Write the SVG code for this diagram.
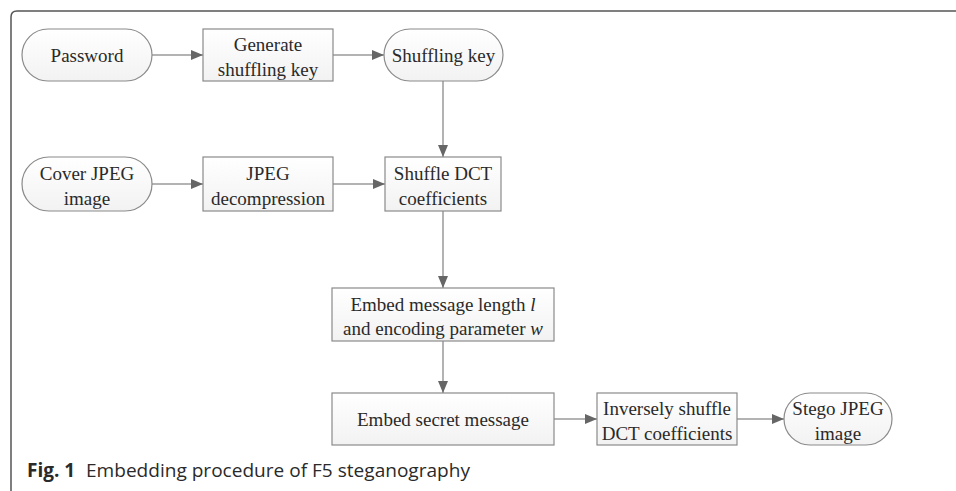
<svg xmlns="http://www.w3.org/2000/svg" width="956" height="491" viewBox="0 0 956 491">
<style>
.node{fill:url(#g);stroke:#8a8a8a;stroke-width:1.2}
.t{font-family:"Liberation Serif","Times New Roman",serif;font-size:19px;fill:#2a2a2a;text-anchor:middle}
.c{stroke:#9a9a9a;stroke-width:1.5;fill:none;marker-end:url(#ah)}
.cap{font-family:"Open Sans","Noto Sans",sans-serif;font-size:19px;fill:#2a2a2a}
</style>
<defs>
<linearGradient id="g" x1="0" y1="0" x2="0" y2="1">
<stop offset="0" stop-color="#ffffff"/>
<stop offset="1" stop-color="#f2f2f2"/>
</linearGradient>
<marker id="ah" viewBox="0 0 12 10" refX="12" refY="5" markerWidth="12" markerHeight="10" markerUnits="userSpaceOnUse" orient="auto">
<path d="M0,0 L12,5 L0,10 Z" fill="#666"/>
</marker>
</defs>
<rect width="956" height="491" fill="#fff"/>
<path d="M11,491 V17 Q11,11 17,11 H956" fill="none" stroke="#555" stroke-width="1.5"/>

<g id="connectors">
<line class="c" x1="152" y1="55" x2="203" y2="55"/>
<line class="c" x1="333" y1="55" x2="384" y2="55"/>
<line class="c" x1="443" y1="81" x2="443" y2="157"/>
<line class="c" x1="152" y1="184" x2="203" y2="184"/>
<line class="c" x1="333" y1="184" x2="385" y2="184"/>
<line class="c" x1="443" y1="211" x2="443" y2="288"/>
<line class="c" x1="443" y1="341" x2="443" y2="393"/>
<line class="c" x1="554" y1="419" x2="597" y2="419"/>
<line class="c" x1="737" y1="419" x2="784" y2="419"/>
</g>

<g id="password">
<rect class="node" x="22" y="29" width="130" height="52" rx="26"/>
<text class="t" x="87" y="61.5">Password</text>
</g>
<g id="generate-key">
<rect class="node" x="203" y="29" width="130" height="52"/>
<text class="t" x="268" y="51">Generate</text>
<text class="t" x="268" y="75.5">shuffling key</text>
</g>
<g id="shuffling-key">
<rect class="node" x="384" y="29" width="119" height="52" rx="26"/>
<text class="t" x="443.5" y="61.5">Shuffling key</text>
</g>
<g id="cover-jpeg">
<rect class="node" x="22" y="157" width="130" height="54" rx="27"/>
<text class="t" x="87" y="180">Cover JPEG</text>
<text class="t" x="87" y="204.5">image</text>
</g>
<g id="jpeg-decompression">
<rect class="node" x="203" y="157" width="130" height="54"/>
<text class="t" x="268" y="180">JPEG</text>
<text class="t" x="268" y="204.5">decompression</text>
</g>
<g id="shuffle-dct">
<rect class="node" x="385" y="157" width="116" height="54"/>
<text class="t" x="443" y="180">Shuffle DCT</text>
<text class="t" x="443" y="204.5">coefficients</text>
</g>
<g id="embed-length">
<rect class="node" x="332" y="288" width="222" height="53"/>
<text class="t" x="443" y="310.5">Embed message length <tspan font-style="italic">l</tspan></text>
<text class="t" x="443" y="335">and encoding parameter <tspan font-style="italic">w</tspan></text>
</g>
<g id="embed-secret">
<rect class="node" x="332" y="393" width="222" height="52"/>
<text class="t" x="443" y="425.5">Embed secret message</text>
</g>
<g id="inverse-shuffle">
<rect class="node" x="597" y="393" width="140" height="52"/>
<text class="t" x="667" y="415">Inversely shuffle</text>
<text class="t" x="667" y="439.5">DCT coefficients</text>
</g>
<g id="stego-jpeg">
<rect class="node" x="784" y="393" width="108" height="52" rx="26"/>
<text class="t" x="838" y="415">Stego JPEG</text>
<text class="t" x="838" y="439.5">image</text>
</g>

<text class="cap" x="27" y="477" font-weight="bold">Fig. 1</text>
<text class="cap" x="86" y="477" textLength="384" lengthAdjust="spacingAndGlyphs">Embedding procedure of F5 steganography</text>
</svg>
